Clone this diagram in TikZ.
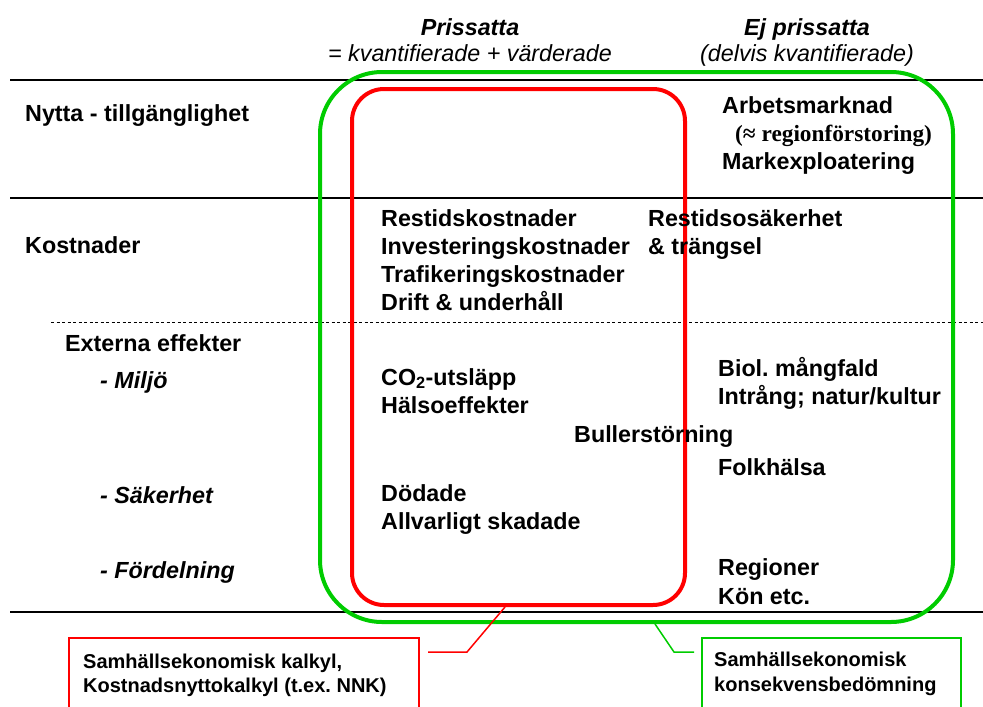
\documentclass[tikz,border=0pt]{standalone}
\usepackage{fontspec}
\setmainfont{Liberation Sans}
\newfontfamily\serifbf{Liberation Serif}
\frenchspacing
\usetikzlibrary{calc}
\definecolor{grn}{RGB}{0,204,0}
\definecolor{rd}{RGB}{255,0,0}
\tikzset{
  lbl/.style={anchor=base west, inner sep=0pt, font=\fontsize{23.3}{28}\selectfont\bfseries},
  ilbl/.style={anchor=base west, inner sep=0pt, font=\fontsize{23.3}{28}\selectfont\bfseries\itshape},
  hdr/.style={anchor=base, inner sep=0pt, font=\fontsize{23.3}{28}\selectfont\bfseries\itshape},
  sub/.style={anchor=base, inner sep=0pt, font=\fontsize{23.3}{28}\selectfont\itshape},
  blbl/.style={anchor=base west, inner sep=0pt, font=\fontsize{20}{24}\selectfont\bfseries},
  rule/.style={line width=1.3pt, black},
  bigbox/.style={line width=4pt},
  smallbox/.style={line width=2.2pt, fill=white},
  conn/.style={line width=1.5pt}
}
\begin{document}
\begin{tikzpicture}[x=1pt,y=-1pt]
\useasboundingbox (0,0) rectangle (983,707);
\clip (0,0) rectangle (983,707);
% rules
\draw[rule] (10,80) -- (983,80);
\draw[rule] (10,198) -- (983,198);
\draw[rule, line width=1pt, dash pattern=on 3pt off 2.5pt] (51,322) -- (983,322);
\draw[rule] (10,612) -- (983,612);
% big rounded boxes
\draw[bigbox, draw=grn, rounded corners=62pt] (320,72) rectangle (953,622);
\draw[bigbox, draw=rd, rounded corners=32pt] (352,89) rectangle (685,605);
% headers
\node[hdr] (h1) at (470,35) {Prissatta};
\node[sub] (h1b) at (470,61) {= kvantifierade + värderade};
\node[hdr] (h2) at (807,35) {Ej prissatta};
\node[sub] (h2b) at (807,61) {(delvis kvantifierade)};
% row labels
\node[lbl] (r1) at (25,121) {Nytta - tillgänglighet};
\node[lbl] (r2) at (25,253) {Kostnader};
\node[lbl] (r3) at (65,351) {Externa effekter};
\node[ilbl] (r4) at (100,388) {- Miljö};
\node[ilbl] (r5) at (100,503) {- Säkerhet};
\node[ilbl] (r6) at (100,578) {- Fördelning};
% row 1
\node[lbl] (a1) at (722,113) {Arbetsmarknad};
\node[lbl, font=\fontsize{23.3}{28}\selectfont\serifbf\bfseries] (a2) at (735,141) {(≈ regionförstoring)};
\node[lbl] (a3) at (722,169) {Markexploatering};
% row 2
\node[lbl] (k1) at (381,226) {Restidskostnader};
\node[lbl] (k2) at (381,254) {Investeringskostnader};
\node[lbl] (k3) at (381,282) {Trafikeringskostnader};
\node[lbl] (k4) at (381,310) {Drift \& underhåll};
\node[lbl] (k5) at (648,226) {Restidsosäkerhet};
\node[lbl] (k6) at (648,254) {\& trängsel};
% externa
\node[lbl] (m1) at (381,385) {CO\textsubscript{2}-utsläpp};
\node[lbl] (m2) at (381,413) {Hälsoeffekter};
\node[lbl] (m3) at (718,376) {Biol. mångfald};
\node[lbl] (m4) at (718,404) {Intrång; natur/kultur};
\node[lbl] (m5) at (574,442) {Bullerstörning};
\node[lbl] (m6) at (718,475) {Folkhälsa};
\node[lbl] (s1) at (381,501) {Dödade};
\node[lbl] (s2) at (381,529) {Allvarligt skadade};
\node[lbl] (f1) at (718,575) {Regioner};
\node[lbl] (f2) at (718,604) {Kön etc.};
% bottom boxes
\draw[smallbox, draw=rd] (69,638) rectangle (419,730);
\draw[smallbox, draw=grn] (702,638) rectangle (961,730);
\node[blbl] (b1) at (83,668) {Samhällsekonomisk kalkyl,};
\node[blbl] (b2) at (83,692) {Kostnadsnyttokalkyl (t.ex. NNK)};
\node[blbl] (g1) at (714,666) {Samhällsekonomisk};
\node[blbl] (g2) at (714,691) {konsekvensbedömning};
% connectors
\coordinate (rc1) at (428,652);
\coordinate (rc2) at (467,652);
\coordinate (rc3) at (505,607);
\draw[conn, draw=rd] (rc1) -- (rc2) -- (rc3);
\coordinate (gc1) at (655,624);
\coordinate (gc2) at (674,652);
\coordinate (gc3) at (694,652);
\draw[conn, draw=grn] (gc1) -- (gc2) -- (gc3);
\end{tikzpicture}
\end{document}
